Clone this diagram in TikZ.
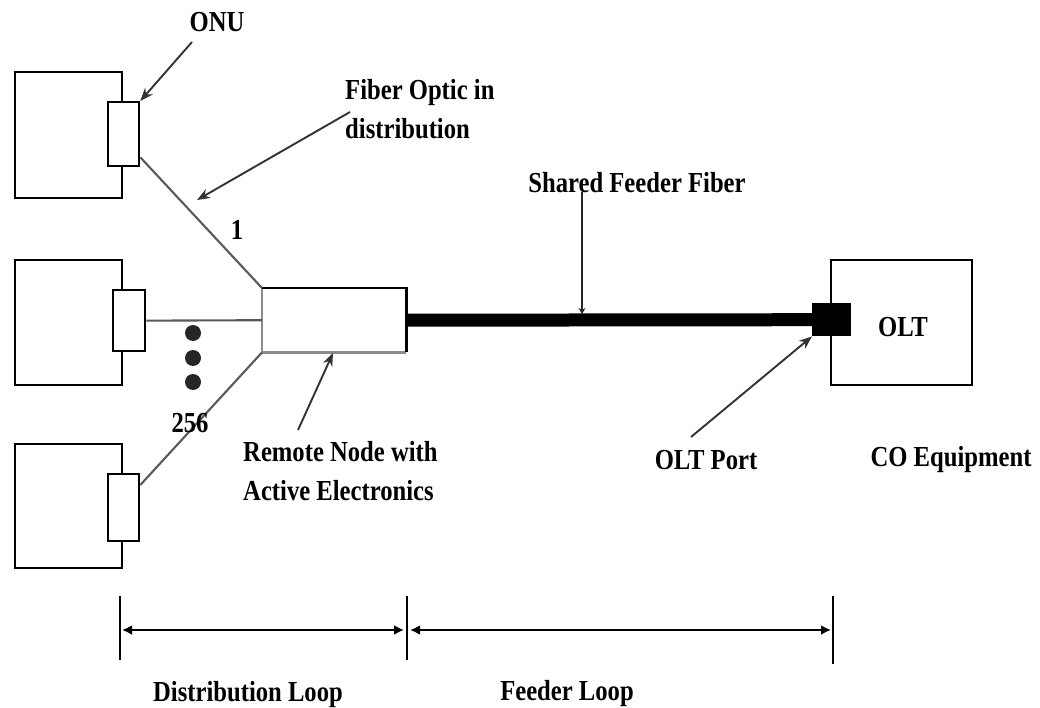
\documentclass[tikz,border=0pt]{standalone}
\usepackage{fontspec}
\setmainfont{Liberation Serif}[FakeStretch=0.85]
\usetikzlibrary{arrows.meta,calc}
\begin{document}
\begin{tikzpicture}[x=1pt,y=-1pt,
  lbl/.style={font=\fontsize{29}{39}\selectfont\bfseries, inner sep=0pt},
  box/.style={draw, line width=2.3pt, fill=white, inner sep=0pt, anchor=north west},
  portbox/.style={draw, line width=2.3pt, fill=white, inner sep=0pt, anchor=north west, minimum width=31pt},
  fib/.style={draw=black!65, line width=2.1pt},
  ptr/.style={draw=black!80, line width=1.9pt, -{Stealth[length=13pt,width=10pt]}},
  dimline/.style={line width=2.8pt, {Latex[length=10pt,width=10pt]}-{Latex[length=10pt,width=10pt]}},
  tick/.style={line width=1.6pt},
  dot/.style={circle, fill=black!85, inner sep=0pt, minimum size=16pt}]
\useasboundingbox (0,0) rectangle (1040,708);

% ONU boxes
\node[box, minimum width=107pt, minimum height=126pt] (onu1) at (14,71) {};
\node[portbox, minimum height=64pt] (p1) at (107,101) {};
\node[box, minimum width=107pt, minimum height=125pt] (onu2) at (14,259) {};
\node[portbox, minimum width=32pt, minimum height=61pt] (p2) at (112,289) {};
\node[box, minimum width=107pt, minimum height=124pt] (onu3) at (14,443) {};
\node[portbox, minimum height=67pt] (p3) at (107,473) {};

% Remote node
\node[inner sep=0pt, anchor=north west, minimum width=144pt, minimum height=64pt, fill=white] (rn) at (262,288) {};
\draw[black!45, line width=2.6pt] (rn.north west) -- (rn.south west) -- (rn.south east);
\draw[line width=2.3pt] (rn.north west) -- (rn.north east) -- (rn.south east);

% distribution fibers
\draw[fib] ([yshift=10pt]p1.south east) -- (rn.north west);
\draw[fib] (p2.east) -- (rn.west);
\draw[fib] (rn.south west) -- ([yshift=-12pt]p3.north east);

% dots
\node[dot] (d1) at (193,333) {};
\node[dot] (d2) at (193,358) {};
\node[dot] (d3) at (193,382) {};

% OLT
\node[box, minimum width=141pt, minimum height=125pt] (olt) at (830,259) {};
\node[inner sep=0pt, anchor=north west, minimum width=39pt, minimum height=33pt, fill=black] (oltport) at (812,303) {};
\draw[line width=13pt] (rn.east) -- (oltport.west);

% labels
\node[lbl, anchor=base] (lonu) at (217,32) {ONU};
\node[lbl, anchor=north west, align=left] (lfib) at (345,79) {Fiber Optic in\\distribution};
\node[lbl, anchor=base] (l1) at (237,240) {1};
\node[lbl, anchor=base] (l256) at (190,432) {256};
\node[lbl, anchor=base] (lshared) at (637,193) {Shared Feeder Fiber};
\node[lbl, anchor=base] (lolt) at (903,336) {OLT};
\node[lbl, anchor=base] (lport) at (706,469) {OLT Port};
\node[lbl, anchor=base] (lco) at (951,466) {CO Equipment};
\node[lbl, anchor=north west, align=left] (lrn) at (243,441) {Remote Node with\\Active Electronics};
\node[lbl, anchor=base] (ldist) at (248,701) {Distribution Loop};
\node[lbl, anchor=base] (lfeed) at (567,700) {Feeder Loop};

% pointer arrows
\coordinate (aonu) at (192,42);
\coordinate (afib) at (350,112);
\coordinate (afibend) at (197,200);
\coordinate (arn) at (298,430);
\coordinate (arnend) at (333,353);
\coordinate (ash) at (582,192);
\coordinate (ashend) at (582,314);
\coordinate (aport) at (691,437);
\draw[ptr] (aonu) -- (p1.north east);
\draw[ptr] (afib) -- (afibend);
\draw[ptr] (arn) -- (arnend);
\draw[draw=black!85, line width=1.6pt, -{Stealth[length=6pt,width=7pt]}] (ash) -- (ashend);
\draw[ptr] (aport) -- (oltport.south west);

% dimension lines
\coordinate (t1a) at (120,596); \coordinate (t1b) at (120,660);
\coordinate (t2a) at (407,596); \coordinate (t2b) at (407,660);
\coordinate (t3a) at (833,596); \coordinate (t3b) at (833,664);
\draw[tick] (t1a) -- (t1b);
\draw[tick] (t2a) -- (t2b);
\draw[tick] (t3a) -- (t3b);
\coordinate (m1a) at (122,630); \coordinate (m1b) at (404,630);
\coordinate (m2a) at (410,630); \coordinate (m2b) at (831,630);
\draw[dimline] (m1a) -- (m1b);
\draw[dimline] (m2a) -- (m2b);
\end{tikzpicture}
\end{document}
